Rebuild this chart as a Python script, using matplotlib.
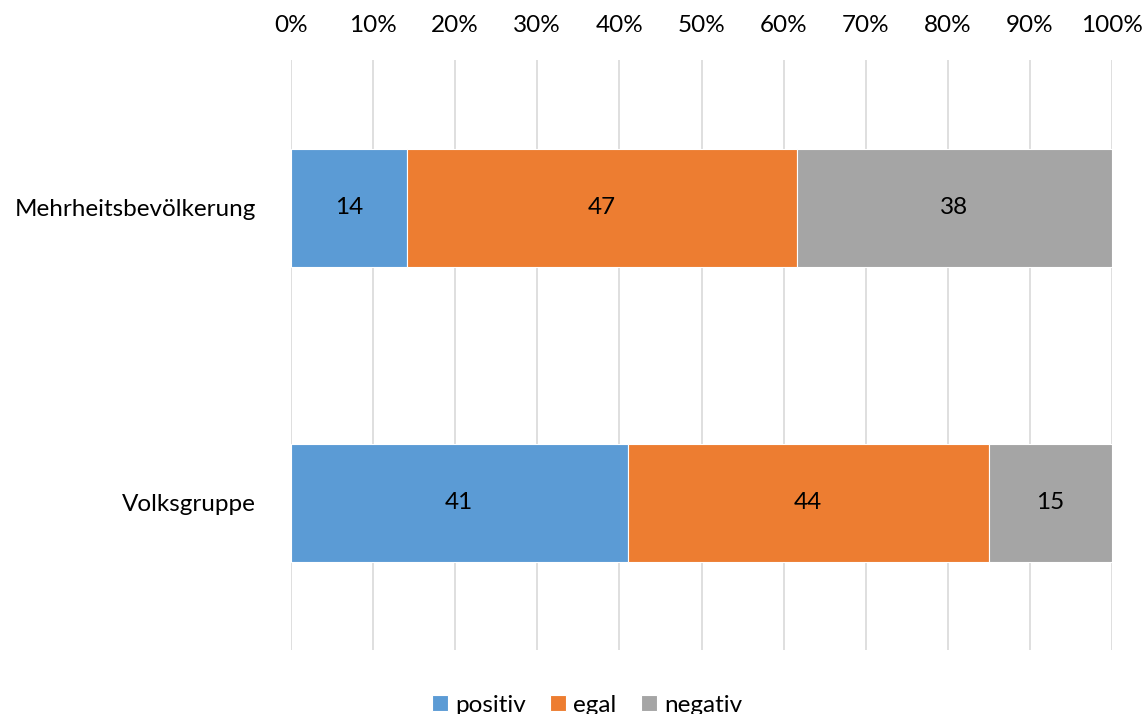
import matplotlib
matplotlib.use("Agg")
import matplotlib.pyplot as plt
import numpy as np
from matplotlib.ticker import PercentFormatter

plt.rcParams["font.family"] = ["Lato", "DejaVu Sans"]

groups = ["Mehrheitsbevölkerung", "Volksgruppe"]
series = ["positiv", "egal", "negativ"]
positiv = [14, 41]
egal = [47, 44]
negativ = [38, 15]
colors = ["#5b9bd5", "#ed7d31", "#a5a5a5"]

values = np.array([positiv, egal, negativ], dtype=float)
shares = values / values.sum(axis=0) * 100

fig = plt.figure(figsize=(11.48, 7.14), dpi=100)
ax = fig.add_axes([291 / 1148, 1 - 650 / 714, 821 / 1148, 590 / 714])

fs = 17.5
y = np.arange(len(groups))
left = np.zeros(len(groups))
handles = []
for name, share, raw, color in zip(series, shares, values, colors):
    bars = ax.barh(y, share, left=left, height=0.4, color=color,
                   edgecolor="white", linewidth=0.8, label=name, zorder=3)
    for xi, yi, s, r in zip(left, y, share, raw):
        ax.text(xi + s / 2, yi, f"{r:.0f}", ha="center", va="center",
                fontsize=fs, color="#000000", zorder=4)
    left = left + share
    handles.append(bars)

ax.set_xlim(0, 100)
ax.set_ylim(1.5, -0.5)
ax.set_xticks(np.arange(0, 101, 10))
ax.xaxis.set_major_formatter(PercentFormatter(decimals=0))
ax.xaxis.tick_top()
ax.tick_params(axis="x", length=0, pad=17, labelsize=fs)
ax.tick_params(axis="y", length=0, pad=25, labelsize=fs)
ax.set_yticks(y)
ax.set_yticklabels(groups)
ax.grid(axis="x", color="#d9d9d9", linewidth=1.2, zorder=0)
for sp in ax.spines.values():
    sp.set_visible(False)

fig.legend(handles=handles, labels=series, loc="center", ncol=3,
           bbox_to_anchor=(587 / 1148, 1 - 705 / 714), frameon=False,
           fontsize=fs, handlelength=0.65, handleheight=0.65,
           handletextpad=0.3, columnspacing=1.0)

fig.savefig("out.png", dpi=100)
